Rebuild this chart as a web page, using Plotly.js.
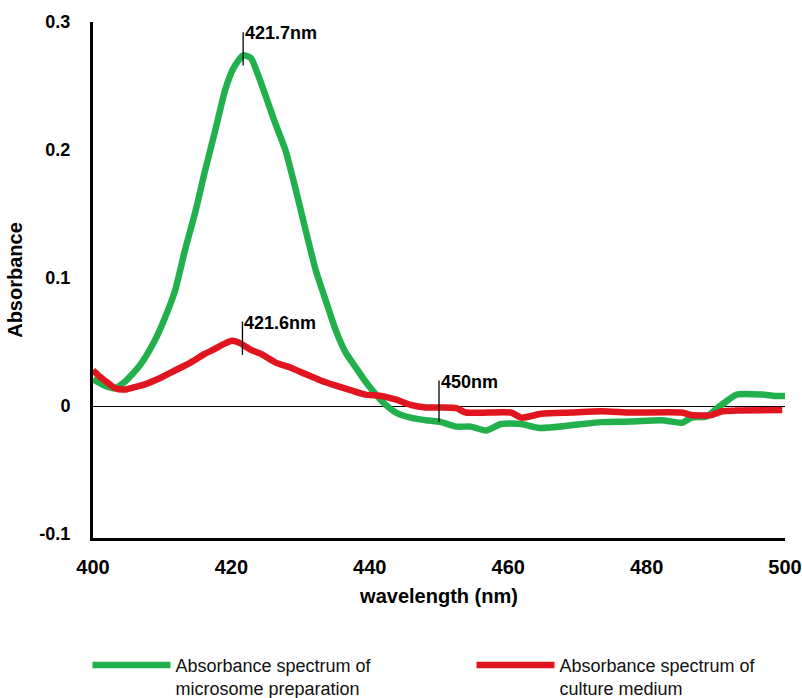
<!DOCTYPE html>
<html>
<head>
<meta charset="utf-8">
<script src="https://cdn.plot.ly/plotly-3.0.1.min.js"></script>
<style>
  html, body { margin: 0; padding: 0; background: #fff; }
  #chart { width: 802px; height: 698px; }
</style>
</head>
<body>
<div id="chart"></div>
<script>
// Microsome preparation spectrum (wavelength nm, absorbance)
const microsomeWl = [400, 401.7, 403.2, 404.6, 406.8, 409, 410.4, 411.9, 413.3, 414.8, 416.2, 417.7,
  419.1, 420.3, 421.7, 422.8, 423.9, 424.9, 426.4, 427.8, 429.3, 430.7, 432.2, 433.6, 435.1,
  436.5, 438, 439.4, 440.9, 442.3, 443.8, 445.9, 448.1, 450.3, 452.5, 454.6, 456.8, 459,
  461.9, 464.5, 469.1, 473.5, 477.8, 482.2, 485.1, 486.5, 488.7, 490.1, 491.6, 493, 496.7,
  498.5, 500];
const microsomeAbs = [0.021, 0.016, 0.014, 0.019, 0.032, 0.052, 0.069, 0.091, 0.122, 0.152, 0.184, 0.216,
  0.247, 0.264, 0.274, 0.272, 0.258, 0.243, 0.220, 0.200, 0.169, 0.138, 0.106, 0.083, 0.059,
  0.042, 0.030, 0.019, 0.009, 0.001, -0.005, -0.009, -0.011, -0.0125, -0.016, -0.016, -0.019, -0.014,
  -0.014, -0.017, -0.015, -0.0125, -0.012, -0.011, -0.013, -0.009, -0.008, -0.002, 0.004, 0.009, 0.009,
  0.008, 0.008];

// Culture medium spectrum (wavelength nm, absorbance)
const mediumWl = [400, 401, 402.2, 403.2, 404.6, 406.1, 407.5, 409.7, 411.9, 414.1, 416.2, 417.7,
  419.1, 420.1, 421.3, 422.8, 424.2, 426.4, 428.6, 430.7, 432.9, 435.1, 437.2, 439.4, 441.6,
  443.8, 445.9, 448.1, 450.3, 452.5, 453.9, 460.4, 461.9, 464.8, 469.1, 473.5, 477.8, 485.1,
  486.5, 489.4, 490.9, 493, 499.6];
const mediumAbs = [0.028, 0.023, 0.018, 0.014, 0.013, 0.015, 0.017, 0.022, 0.028, 0.034, 0.041, 0.045,
  0.049, 0.051, 0.049, 0.044, 0.041, 0.034, 0.030, 0.025, 0.020, 0.016, 0.0125, 0.009, 0.008,
  0.005, 0.001, -0.001, -0.001, -0.0015, -0.005, -0.005, -0.009, -0.006, -0.005, -0.004, -0.005, -0.005,
  -0.007, -0.007, -0.004, -0.0035, -0.003];

// Peak / reference wavelength markers
const markWl = [421.7, 421.6, 450];
const markLabel = ['421.7nm', '421.6nm', '450nm'];

// Axis ticks
const xTickVals = [400, 420, 440, 460, 480, 500];
const yTickVals = [-0.1, 0, 0.1, 0.2, 0.3];
const yTickText = ['-0.1', '0', '0.1', '0.2', '0.3'];

const seriesNames = ['Absorbance spectrum of<br>microsome preparation',
                     'Absorbance spectrum of<br>culture medium'];

const GREEN = '#21b04b';
const RED = '#e0151f';
const FONT = 'Liberation Sans, Arial, sans-serif';

const traces = [
  { x: microsomeWl, y: microsomeAbs, name: seriesNames[0], type: 'scatter', mode: 'lines',
    legend: 'legend',
    line: { color: GREEN, width: 6.5, shape: 'spline', smoothing: 0.6 } },
  { x: mediumWl, y: mediumAbs, name: seriesNames[1], type: 'scatter', mode: 'lines',
    legend: 'legend2',
    line: { color: RED, width: 6.5, shape: 'spline', smoothing: 0.6 } }
];

// vertical extent of each marker tick (absorbance units)
const markSpan = [[0.266, 0.292], [0.040, 0.066], [-0.0125, 0.020]];

const shapes = markWl.map((w, i) => ({
  type: 'line', xref: 'x', yref: 'y', x0: w, x1: w,
  y0: markSpan[i][0], y1: markSpan[i][1],
  line: { color: '#000', width: 1.3 }
}));

const annotations = markWl.map((w, i) => ({
  x: w, y: markSpan[i][1], xref: 'x', yref: 'y',
  text: markLabel[i], showarrow: false,
  xanchor: 'left', yanchor: 'middle', xshift: 0, yshift: -1,
  font: { family: FONT, size: 18, color: '#000', weight: 700 }
}));

const legendBase = {
  orientation: 'h', yanchor: 'top', y: -0.211, xanchor: 'left',
  valign: 'top', itemwidth: 78,
  font: { family: FONT, size: 18, color: '#111' }
};

const layout = {
  width: 802, height: 698,
  margin: { l: 93, r: 17, t: 22, b: 160, autoexpand: false },
  paper_bgcolor: '#fff', plot_bgcolor: '#fff',
  showlegend: true,
  legend: Object.assign({}, legendBase, { x: -0.008 }),
  legend2: Object.assign({}, legendBase, { x: 0.547 }),
  xaxis: {
    range: [400, 500], tickvals: xTickVals, ticks: '',
    showgrid: false, zeroline: false,
    showline: true, linecolor: '#000', linewidth: 3,
    ticklabelstandoff: 9,
    tickfont: { family: FONT, size: 20, color: '#000', weight: 700 },
    title: { text: 'wavelength (nm)', standoff: 12,
             font: { family: FONT, size: 20, color: '#000', weight: 700 } }
  },
  yaxis: {
    range: [-0.103, 0.3], tickvals: yTickVals, ticktext: yTickText, ticks: '',
    showgrid: false,
    zeroline: true, zerolinecolor: '#000', zerolinewidth: 1,
    showline: true, linecolor: '#000', linewidth: 3,
    ticklabelstandoff: 16,
    tickfont: { family: FONT, size: 18, color: '#000', weight: 700 },
    title: { text: 'Absorbance', standoff: 12,
             font: { family: FONT, size: 20, color: '#000', weight: 700 } }
  },
  shapes: shapes,
  annotations: annotations
};

Plotly.newPlot('chart', traces, layout, { displayModeBar: false, staticPlot: true });
</script>
</body>
</html>
